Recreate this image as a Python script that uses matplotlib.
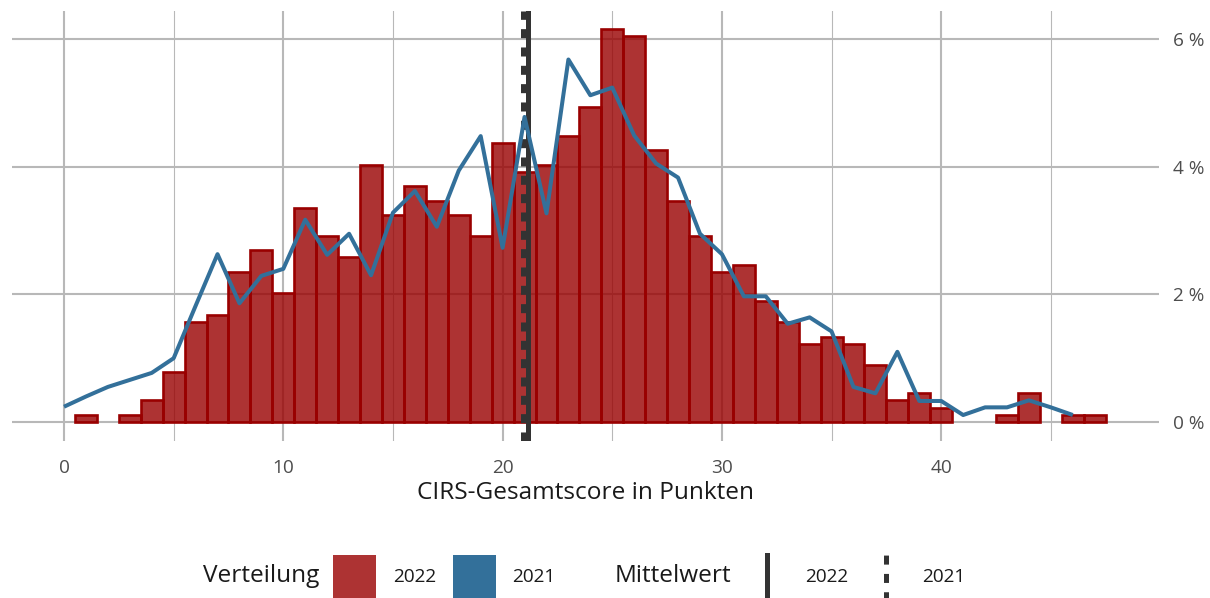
import matplotlib
matplotlib.use("Agg")
import matplotlib.pyplot as plt
from matplotlib.patches import Rectangle
from matplotlib.lines import Line2D

plt.rcParams['font.family'] = ['Open Sans', 'DejaVu Sans']
plt.rcParams['lines.scale_dashes'] = False

# ---- data ----
score_2022 = list(range(1, 48))
pct_2022 = [0.11, 0, 0.11, 0.34, 0.78, 1.57, 1.68, 2.35, 2.69, 2.02,
            3.36, 2.91, 2.58, 4.03, 3.25, 3.70, 3.47, 3.25, 2.91, 4.37,
            3.92, 4.03, 4.48, 4.93, 6.16, 6.05, 4.26, 3.47, 2.91, 2.35,
            2.46, 1.90, 1.57, 1.23, 1.34, 1.23, 0.90, 0.34, 0.45, 0.22,
            0, 0, 0.11, 0.45, 0, 0.11, 0.11]
score_2021 = list(range(0, 47))
pct_2021 = [0.24, 0.40, 0.55, 0.66, 0.77, 1.00, 1.82, 2.63, 1.86, 2.29,
            2.40, 3.17, 2.62, 2.95, 2.30, 3.28, 3.62, 3.06, 3.94, 4.48,
            2.73, 4.78, 3.27, 5.68, 5.12, 5.24, 4.49, 4.05, 3.83, 2.95,
            2.63, 1.97, 1.97, 1.54, 1.64, 1.42, 0.55, 0.45, 1.10, 0.33,
            0.33, 0.11, 0.23, 0.23, 0.34, 0.23, 0.11]
mean_2022 = 21.14
mean_2021 = 20.93
x_ticks = [0, 10, 20, 30, 40]
y_ticks = [0, 2, 4, 6]
y_labels = ["0 %", "2 %", "4 %", "6 %"]
legend_labels = ["2022", "2021"]

W, H = 1210, 598
fig = plt.figure(figsize=(W / 100, H / 100), dpi=100)
ax = fig.add_axes([12 / W, 1 - 441 / H, (1159 - 12) / W, (441 - 11) / H])
ax.set_xlim(-2.371, 49.93)
ax.set_ylim(-0.297, 6.44)

for s in ax.spines.values():
    s.set_visible(False)
ax.set_axisbelow(True)
ax.set_xticks(x_ticks)
ax.set_xticks([5, 15, 25, 35, 45], minor=True)
ax.set_yticks(y_ticks)
ax.set_yticklabels(y_labels)
ax.yaxis.tick_right()
ax.grid(which='major', axis='both', color='#b8b8b8', lw=1.5)
ax.grid(which='minor', axis='x', color='#b8b8b8', lw=0.8)
ax.tick_params(which='both', length=0)
ax.tick_params(axis='x', pad=13, labelsize=13.7, labelcolor='#4d4d4d')
ax.tick_params(axis='y', pad=10, labelsize=13.7, labelcolor='#4d4d4d')
ax.set_xlabel("CIRS-Gesamtscore in Punkten", fontsize=17.6, color='#1a1a1a', labelpad=3)

bar_fill = (0.6, 0.0, 0.0, 0.8)
bx = [x for x, v in zip(score_2022, pct_2022) if v > 0]
bh = [v for v in pct_2022 if v > 0]
ax.bar(bx, bh, width=1.0, facecolor=bar_fill, edgecolor='#990000', linewidth=1.9, zorder=2)

dot_style = (0, (6.5, 6.7))
ax.axvline(mean_2021, color='#333333', lw=3.6, linestyle=dot_style, zorder=3)
ax.axvline(mean_2022, color='#333333', lw=3.6, zorder=3)

line_col = '#33709A'
ax.plot(score_2021, pct_2021, color=line_col, lw=2.9, solid_joinstyle='round',
        solid_capstyle='butt', zorder=4)

# ---- legend (bottom) ----
def fx(px):
    return px / W

def fy(py):
    return 1 - py / H

yc = fy(576.5)
fig.text(fx(203), yc, "Verteilung", fontsize=17.6, va='center', ha='left', color='#1a1a1a')
fig.add_artist(Rectangle((fx(333), fy(598)), 43 / W, 43 / H, transform=fig.transFigure,
                         facecolor=bar_fill, edgecolor='none'))
fig.text(fx(393), yc, legend_labels[0], fontsize=13.7, va='center', ha='left', color='#1a1a1a')
fig.add_artist(Rectangle((fx(453), fy(598)), 43 / W, 43 / H, transform=fig.transFigure,
                         facecolor=line_col, edgecolor='none'))
fig.text(fx(512), yc, legend_labels[1], fontsize=13.7, va='center', ha='left', color='#1a1a1a')
fig.text(fx(615), yc, "Mittelwert", fontsize=17.6, va='center', ha='left', color='#1a1a1a')
fig.add_artist(Line2D([fx(767), fx(767)], [fy(598), fy(555)], transform=fig.transFigure,
                      color='#333333', lw=3.6))
fig.text(fx(805), yc, legend_labels[0], fontsize=13.7, va='center', ha='left', color='#1a1a1a')
fig.add_artist(Line2D([fx(886), fx(886)], [fy(598), fy(555)], transform=fig.transFigure,
                      color='#333333', lw=3.6, linestyle=(2, (6.5, 6.7))))
fig.text(fx(922), yc, legend_labels[1], fontsize=13.7, va='center', ha='left', color='#1a1a1a')

fig.savefig("out.png", dpi=100)
